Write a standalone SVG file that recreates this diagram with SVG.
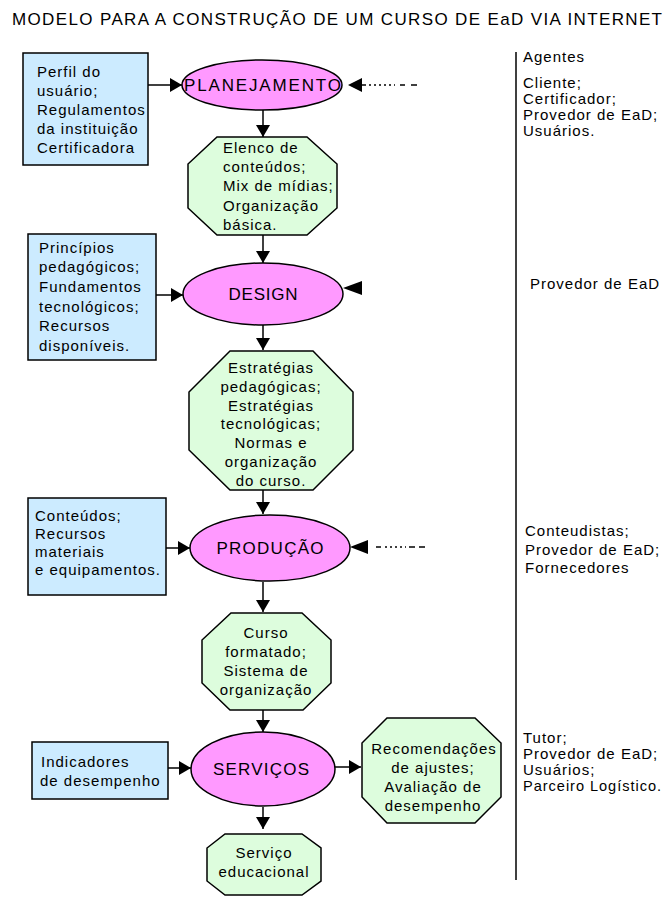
<svg xmlns="http://www.w3.org/2000/svg" width="666" height="899" viewBox="0 0 666 899">
<defs>
<style>
text{font-family:"Liberation Sans",Arial,sans-serif;fill:#000}
.t{font-size:15px;letter-spacing:1px}
.c{text-anchor:middle}
.h{font-size:17px}
.box{fill:#CCEBFF;stroke:#000;stroke-width:1.5}
.ell{fill:#FF99FF;stroke:#000;stroke-width:1.5}
.oct{fill:#DDFDDD;stroke:#000;stroke-width:1.5}
.ln{stroke:#000;stroke-width:1.5;fill:none}
.dot{stroke:#000;stroke-width:1.5;fill:none;stroke-dasharray:2,3}
</style>
<marker id="ah" markerUnits="userSpaceOnUse" markerWidth="14" markerHeight="14" refX="12" refY="7" orient="auto" viewBox="0 0 14 14">
<path d="M0,0 L12,7 L0,14 z" fill="#000"/>
</marker>
</defs>
<rect width="666" height="899" fill="#fff"/>
<text x="12" y="25" class="h" textLength="650" lengthAdjust="spacing">MODELO PARA A CONSTRUÇÃO DE UM CURSO DE EaD VIA INTERNET</text>

<g id="connectors">
<line class="ln" x1="263" y1="110" x2="263" y2="137" marker-end="url(#ah)"/>
<line class="ln" x1="263" y1="235" x2="263" y2="263" marker-end="url(#ah)"/>
<line class="ln" x1="263" y1="325" x2="263" y2="350" marker-end="url(#ah)"/>
<line class="ln" x1="263" y1="490" x2="263" y2="514" marker-end="url(#ah)"/>
<line class="ln" x1="263" y1="582" x2="263" y2="612" marker-end="url(#ah)"/>
<line class="ln" x1="263" y1="710" x2="263" y2="732" marker-end="url(#ah)"/>
<line class="ln" x1="263" y1="807" x2="263" y2="829" marker-end="url(#ah)"/>
<line class="ln" x1="148" y1="85" x2="182" y2="85" marker-end="url(#ah)"/>
<line class="ln" x1="156" y1="295" x2="183" y2="295" marker-end="url(#ah)"/>
<line class="ln" x1="166" y1="548" x2="190" y2="548" marker-end="url(#ah)"/>
<line class="ln" x1="168" y1="768" x2="191" y2="768" marker-end="url(#ah)"/>
<line class="ln" x1="335" y1="767" x2="361" y2="767" marker-end="url(#ah)"/>
<line class="ln" x1="362" y1="85" x2="366" y2="85"/>
<line class="dot" x1="369" y1="85" x2="395" y2="85"/>
<line class="ln" x1="400" y1="85" x2="405" y2="85"/>
<line class="ln" x1="411" y1="85" x2="417" y2="85"/>
<polygon points="348,85 362,78 362,92" fill="#000"/>
<polygon points="343,288 362,281 362,295" fill="#000"/>
<line class="ln" x1="376" y1="547" x2="381" y2="547"/>
<line class="dot" x1="385" y1="547" x2="406" y2="547"/>
<line class="ln" x1="409" y1="547" x2="415" y2="547"/>
<line class="ln" x1="419" y1="547" x2="425" y2="547"/>
<polygon points="350,547 368,540 368,554" fill="#000"/>
<line class="ln" x1="516" y1="52" x2="516" y2="880"/>
</g>

<g id="perfil">
<rect class="box" x="23" y="53" width="125" height="112"/>
<text class="t" x="37" y="77">Perfil do</text>
<text class="t" x="37" y="96">usuário;</text>
<text class="t" x="37" y="115">Regulamentos</text>
<text class="t" x="37" y="134">da instituição</text>
<text class="t" x="37" y="153">Certificadora</text>
</g>

<g id="planejamento">
<ellipse class="ell" cx="262" cy="85" rx="80" ry="25"/>
<text class="h" x="184" y="91" textLength="157" lengthAdjust="spacing">PLANEJAMENTO</text>
</g>

<g id="elenco">
<polygon class="oct" points="217,137 307,137 337,164 337,208 307,235 217,235 188,208 188,164"/>
<text class="t" x="223" y="153">Elenco de</text>
<text class="t" x="223" y="172">conteúdos;</text>
<text class="t" x="223" y="191">Mix de mídias;</text>
<text class="t" x="223" y="211">Organização</text>
<text class="t" x="223" y="230">básica.</text>
</g>

<g id="principios">
<rect class="box" x="28" y="234" width="128" height="126"/>
<text class="t" x="39" y="253">Princípios</text>
<text class="t" x="39" y="272">pedagógicos;</text>
<text class="t" x="39" y="292">Fundamentos</text>
<text class="t" x="39" y="312">tecnológicos;</text>
<text class="t" x="39" y="331">Recursos</text>
<text class="t" x="39" y="351">disponíveis.</text>
</g>

<g id="design">
<ellipse class="ell" cx="263" cy="294" rx="80" ry="31"/>
<text class="h c" x="263" y="300" textLength="69" lengthAdjust="spacing">DESIGN</text>
</g>

<g id="estrategias">
<polygon class="oct" points="230,351 313,351 353,392 353,450 313,490 230,490 189,450 189,392"/>
<text class="t c" x="271" y="373">Estratégias</text>
<text class="t c" x="271" y="392">pedagógicas;</text>
<text class="t c" x="271" y="411">Estratégias</text>
<text class="t c" x="271" y="429">tecnológicas;</text>
<text class="t c" x="271" y="448">Normas e</text>
<text class="t c" x="271" y="467">organização</text>
<text class="t c" x="271" y="486">do curso.</text>
</g>

<g id="conteudos">
<rect class="box" x="28" y="498" width="138" height="97"/>
<text class="t" x="35" y="521">Conteúdos;</text>
<text class="t" x="35" y="539">Recursos</text>
<text class="t" x="35" y="557">materiais</text>
<text class="t" x="35" y="575">e equipamentos.</text>
</g>

<g id="producao">
<ellipse class="ell" cx="270" cy="548" rx="80" ry="33"/>
<text class="h c" x="270" y="554" textLength="107" lengthAdjust="spacing">PRODUÇÃO</text>
</g>

<g id="curso">
<polygon class="oct" points="231,613 302,613 331,640 331,683 303,710 230,710 202,683 202,640"/>
<text class="t c" x="266" y="638">Curso</text>
<text class="t c" x="266" y="657">formatado;</text>
<text class="t c" x="266" y="676">Sistema de</text>
<text class="t c" x="266" y="695">organização</text>
</g>

<g id="indicadores">
<rect class="box" x="32" y="742" width="136" height="57"/>
<text class="t" x="41" y="767">Indicadores</text>
<text class="t" x="40" y="786">de desempenho</text>
</g>

<g id="servicos">
<ellipse class="ell" cx="263" cy="769" rx="72" ry="37"/>
<text class="h c" x="261" y="775" textLength="96" lengthAdjust="spacing">SERVIÇOS</text>
</g>

<g id="recomendacoes">
<polygon class="oct" points="387,718 475,718 501,743 501,797 475,823 387,823 362,797 362,743"/>
<text class="t c" x="434" y="754">Recomendações</text>
<text class="t c" x="433" y="773">de ajustes;</text>
<text class="t c" x="433" y="792">Avaliação de</text>
<text class="t c" x="433" y="811">desempenho</text>
</g>

<g id="servico-educacional">
<polygon class="oct" points="225,834 302,834 321,848 321,881 302,895 225,895 207,881 207,848"/>
<text class="t c" x="264" y="858">Serviço</text>
<text class="t c" x="264" y="877">educacional</text>
</g>

<g id="agentes">
<text class="t" x="523" y="62">Agentes</text>
<text class="t" x="523" y="88">Cliente;</text>
<text class="t" x="523" y="104">Certificador;</text>
<text class="t" x="523" y="120">Provedor de EaD;</text>
<text class="t" x="523" y="136">Usuários.</text>
<text class="t" x="530" y="289">Provedor de EaD</text>
<text class="t" x="525" y="536">Conteudistas;</text>
<text class="t" x="525" y="555">Provedor de EaD;</text>
<text class="t" x="525" y="573">Fornecedores</text>
<text class="t" x="523" y="743">Tutor;</text>
<text class="t" x="523" y="759">Provedor de EaD;</text>
<text class="t" x="523" y="775">Usuários;</text>
<text class="t" x="523" y="791" textLength="139" lengthAdjust="spacingAndGlyphs">Parceiro Logístico.</text>
</g>
</svg>
